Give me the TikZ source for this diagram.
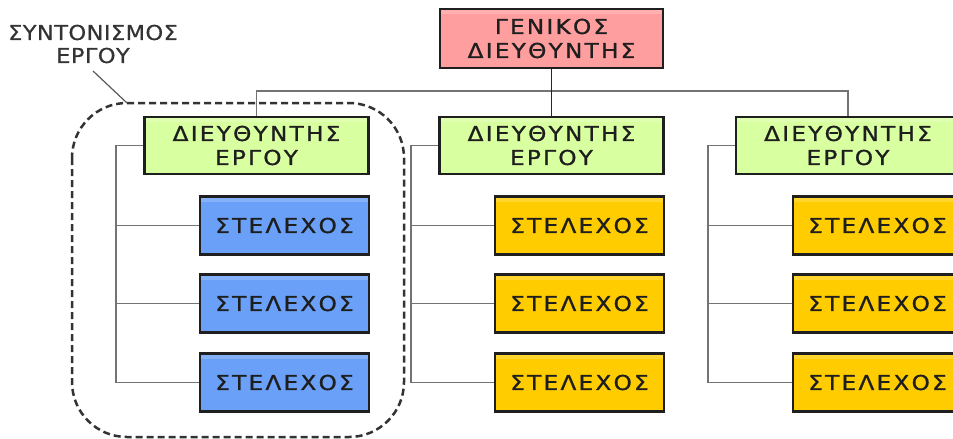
\documentclass[tikz,border=0pt]{standalone}
\usepackage{fontspec}
\newfontfamily\boxfont[LetterSpace=11,FakeStretch=1.13,FakeBold=1.1]{DejaVu Sans}
\newfontfamily\labelfont[LetterSpace=2,FakeStretch=1.1,FakeBold=0.6]{DejaVu Sans}
\definecolor{chiefred}{HTML}{FF9E9E}
\definecolor{mgrgreen}{HTML}{D8FFA0}
\definecolor{staffblue}{HTML}{6AA0F8}
\definecolor{staffgold}{HTML}{FFCC00}
\definecolor{inkgray}{HTML}{1E1E1E}
\begin{document}
\begin{tikzpicture}[x=1pt,y=-1pt,
  orgbox/.style={draw=black!88, line width=2.6pt, inner sep=0pt, align=center,
    text=inkgray, font=\boxfont\fontsize{20.5}{24}\selectfont,
    path picture={\fill[white, opacity=0.18]
      (path picture bounding box.north west) rectangle
      ([yshift=-5pt]path picture bounding box.north east);}},
  chief/.style={orgbox, fill=chiefred, minimum width=223, minimum height=59},
  manager/.style={orgbox, fill=mgrgreen, minimum width=224, minimum height=57},
  staffA/.style={orgbox, fill=staffblue, minimum width=169, minimum height=58},
  staffB/.style={orgbox, fill=staffgold, minimum width=169, minimum height=58},
  conn/.style={draw=black!55, line width=1.6pt},
  trunk/.style={draw=black!85, line width=1.5pt},
  groupline/.style={draw=black!80, line width=2.5pt, dash pattern=on 7pt off 4pt},
  leader/.style={draw=black!65, line width=1.2pt},
  grouplabel/.style={align=center, inner sep=0pt, text=black!80,
    font=\labelfont\fontsize{20.5}{23}\selectfont}]
\useasboundingbox (0,0) rectangle (953,439);
\clip (0,0) rectangle (953,439);

% project coordination group outline
\draw[groupline, rounded corners=55pt] (72,103) rectangle (404,437);
\coordinate (grptop) at (127,103);
\node[grouplabel] (lbl) at (93,44) {ΣΥΝΤΟΝΙΣΜΟΣ\\ΕΡΓΟΥ};
\coordinate (leadstart) at (93,71);
\draw[leader] (leadstart) -- (grptop);

% boxes
\node[chief] (gm) at (551.5,38.5) {ΓΕΝΙΚΟΣ\\ΔΙΕΥΘΥΝΤΗΣ};

\node[manager] (m1) at (256.5,145.5) {ΔΙΕΥΘΥΝΤΗΣ\\ΕΡΓΟΥ};
\node[manager] (m2) at (551.5,145.5) {ΔΙΕΥΘΥΝΤΗΣ\\ΕΡΓΟΥ};
\node[manager] (m3) at (848,145.5) {ΔΙΕΥΘΥΝΤΗΣ\\ΕΡΓΟΥ};

\node[staffA] (s11) at (284.5,225.5) {ΣΤΕΛΕΧΟΣ};
\node[staffA] (s12) at (284.5,303.5) {ΣΤΕΛΕΧΟΣ};
\node[staffA] (s13) at (284.5,382.5) {ΣΤΕΛΕΧΟΣ};

\node[staffB] (s21) at (579.5,225.5) {ΣΤΕΛΕΧΟΣ};
\node[staffB] (s22) at (579.5,303.5) {ΣΤΕΛΕΧΟΣ};
\node[staffB] (s23) at (579.5,382.5) {ΣΤΕΛΕΧΟΣ};

\node[staffB] (s31) at (877.5,225.5) {ΣΤΕΛΕΧΟΣ};
\node[staffB] (s32) at (877.5,303.5) {ΣΤΕΛΕΧΟΣ};
\node[staffB] (s33) at (877.5,382.5) {ΣΤΕΛΕΧΟΣ};

% top level connectors
\draw[conn] (m1.north) -- ++(0,-25) coordinate (busL) -| (m3.north);
\draw[trunk] (gm.south) -- (m2.north);

% manager to staff brackets
\foreach \g in {1,2,3}{
  \draw[conn] (m\g.west) -- ++(-27,0) coordinate (b\g) |- (s\g3.west);
  \draw[conn] (s\g1.west) -- (s\g1.west -| b\g);
  \draw[conn] (s\g2.west) -- (s\g2.west -| b\g);
}
\end{tikzpicture}
\end{document}
